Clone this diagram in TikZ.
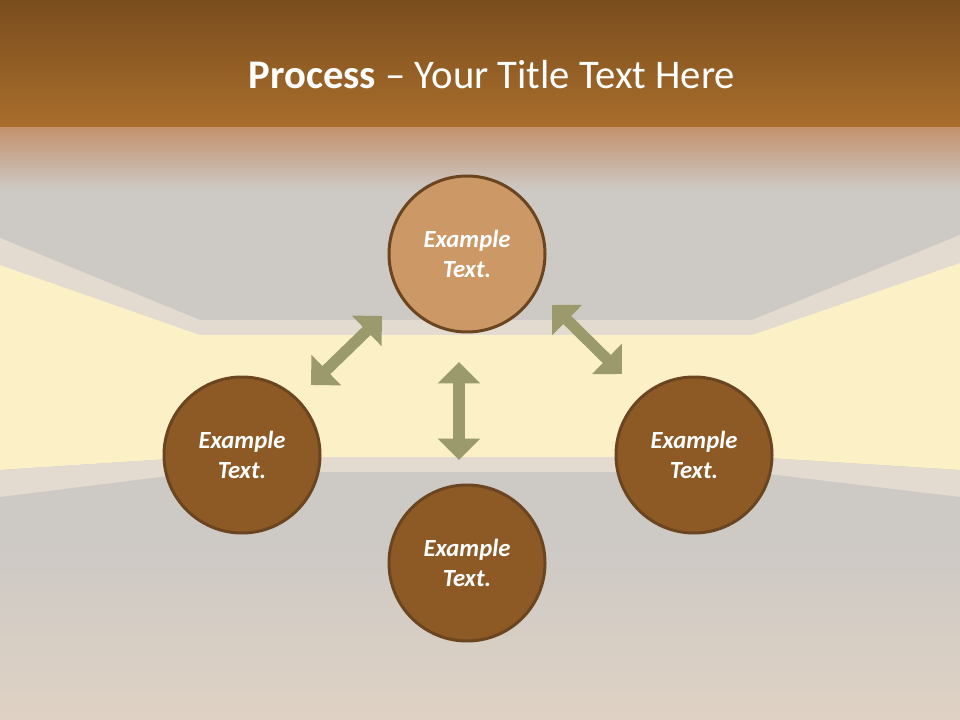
\documentclass[tikz,border=0pt]{standalone}
\usepackage{fontspec}
\setmainfont{Carlito}
\usetikzlibrary{arrows.meta}

\definecolor{bandtop}{HTML}{7A4D1E}
\definecolor{bandlow}{HTML}{A96E2C}
\definecolor{haze}{HTML}{C4926F}
\definecolor{ceiling}{HTML}{CDC9C5}
\definecolor{trim}{HTML}{E3DAD0}
\definecolor{wall}{HTML}{FCF0C7}
\definecolor{floorlow}{HTML}{DFD2C4}
\definecolor{stagedark}{HTML}{8D5A26}
\definecolor{stagelight}{HTML}{CC9866}
\definecolor{stageline}{HTML}{6B4520}
\definecolor{linkgreen}{HTML}{9A9A6C}

\tikzset{%
  every stage/.style={
    circle,
    draw=stageline,
    line width=2.25pt,
    fill=stagedark,
    minimum size=117pt,
    text=white,
    align=center,
    font=\fontsize{18.5}{22}\selectfont\bfseries\itshape
  },
  stage top/.style={
    fill=stagelight
  },
  link/.style={
    draw=linkgreen,
    line width=8.5pt,
    {Triangle[width=31pt,length=16pt]}-{Triangle[width=31pt,length=16pt]}
  },
  title/.style={
    text=white,
    font=\fontsize{30.5}{36}\selectfont
  },
}

\begin{document}
\begin{tikzpicture}[x=0.75pt, y=-0.75pt]

\useasboundingbox (0,0) rectangle (960,720);

% room
\fill[ceiling] (0,0) rectangle (960,720);
\shade[top color=bandtop, bottom color=bandlow] (0,0) rectangle (960,128);
\shade[top color=haze, bottom color=ceiling] (0,128) rectangle (960,190);
\shade[top color=ceiling, bottom color=floorlow] (0,540) rectangle (960,720);

\fill[trim] (0,238) -- (200,320) -- (752,320) -- (960,235) -- (960,263)
  -- (752,335) -- (200,335) -- (0,265) -- cycle;
\fill[wall] (0,265) -- (200,335) -- (752,335) -- (960,263) -- (960,470)
  -- (752,457) -- (200,457) -- (0,470) -- cycle;
\fill[trim] (0,470) -- (200,457) -- (752,457) -- (960,470) -- (960,497)
  -- (752,472) -- (200,472) -- (0,497) -- cycle;

\node[title] (title) at (492,75) {\textbf{Process} – Your Title Text Here};

\foreach \m/\p in {top/{467,254}, left/{242,455}, right/{694,455}, bottom/{467,563}}
  \node [every stage/.try, stage \m/.try] (stage-\m) at (\p) {Example\\Text.};

\coordinate (link-l1) at (382,316);
\coordinate (link-l2) at (311,385);
\coordinate (link-r1) at (552,305);
\coordinate (link-r2) at (622,374);
\coordinate (link-c1) at (459,362);
\coordinate (link-c2) at (459,460);

\foreach \s in {l,r,c}
  \draw [link] (link-\s1) -- (link-\s2);

\end{tikzpicture}
\end{document}
